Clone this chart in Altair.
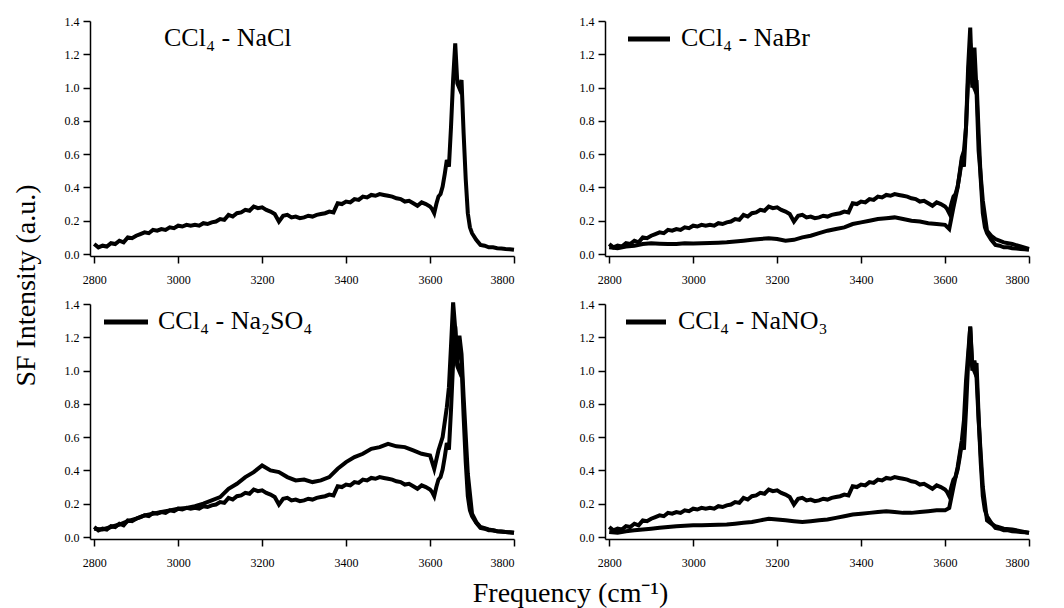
import altair as alt
import pandas as pd

# ---------------- data ----------------
FREQ_NEAT = [2800, 2810, 2820, 2830, 2840, 2850, 2860, 2870, 2880, 2890,
             2900, 2910, 2920, 2930, 2940, 2950, 2960, 2970, 2980, 2990,
             3000, 3010, 3020, 3030, 3040, 3050, 3060, 3070, 3080, 3090,
             3100, 3110, 3120, 3130, 3140, 3150, 3160, 3170, 3180, 3190,
             3200, 3210, 3220, 3230, 3240, 3250, 3260, 3270, 3280, 3290,
             3300, 3310, 3320, 3330, 3340, 3350, 3360, 3370, 3380, 3390,
             3400, 3410, 3420, 3430, 3440, 3450, 3460, 3470, 3480, 3490,
             3500, 3510, 3520, 3530, 3540, 3550, 3560, 3570, 3580, 3590,
             3600, 3605, 3610, 3615, 3620, 3625, 3630, 3635, 3640, 3645,
             3650, 3655, 3660, 3665, 3670, 3675, 3680, 3685, 3690, 3695,
             3700, 3710, 3720, 3730, 3740, 3750, 3760, 3770, 3780, 3790, 3800]
NEAT = [0.060, 0.040, 0.050, 0.045, 0.065, 0.060, 0.080, 0.070, 0.100, 0.095,
        0.110, 0.120, 0.130, 0.125, 0.145, 0.140, 0.150, 0.145, 0.160, 0.155,
        0.170, 0.165, 0.175, 0.170, 0.175, 0.170, 0.185, 0.180, 0.190, 0.195,
        0.210, 0.205, 0.235, 0.225, 0.245, 0.250, 0.265, 0.260, 0.285, 0.275,
        0.280, 0.265, 0.255, 0.240, 0.195, 0.230, 0.235, 0.220, 0.225, 0.215,
        0.220, 0.230, 0.225, 0.235, 0.240, 0.245, 0.255, 0.250, 0.305, 0.300,
        0.315, 0.310, 0.330, 0.325, 0.345, 0.340, 0.355, 0.350, 0.360, 0.355,
        0.350, 0.345, 0.335, 0.330, 0.315, 0.320, 0.305, 0.290, 0.310, 0.300,
        0.285, 0.270, 0.245, 0.300, 0.345, 0.360, 0.405, 0.480, 0.565, 0.525,
        0.765, 1.050, 1.265, 1.025, 0.995, 1.045, 0.725, 0.450, 0.245, 0.160,
        0.125, 0.085, 0.055, 0.050, 0.040, 0.040, 0.035, 0.033, 0.030, 0.028, 0.025]

FREQ_SALT = [2800, 2820, 2840, 2860, 2880, 2900, 2920, 2940, 2960, 2980,
             3000, 3020, 3040, 3060, 3080, 3100, 3120, 3140, 3160, 3180,
             3200, 3220, 3240, 3260, 3280, 3300, 3320, 3340, 3360, 3380,
             3400, 3420, 3440, 3460, 3480, 3500, 3520, 3540, 3560, 3580,
             3600, 3610, 3620, 3630, 3640, 3645, 3650, 3655, 3660, 3665,
             3670, 3675, 3680, 3690, 3700, 3710, 3720, 3740, 3760, 3780, 3800]
NABR = [0.040, 0.035, 0.045, 0.050, 0.060, 0.065, 0.062, 0.060, 0.060, 0.065,
        0.063, 0.065, 0.066, 0.068, 0.070, 0.075, 0.080, 0.085, 0.090, 0.095,
        0.090, 0.080, 0.085, 0.100, 0.110, 0.125, 0.140, 0.150, 0.160, 0.180,
        0.190, 0.200, 0.210, 0.215, 0.220, 0.210, 0.200, 0.195, 0.185, 0.180,
        0.175, 0.150, 0.280, 0.400, 0.580, 0.620, 0.760, 1.120, 1.360, 1.000,
        1.240, 0.980, 0.620, 0.320, 0.140, 0.110, 0.090, 0.070, 0.060, 0.045, 0.030]
NA2SO4 = [0.050, 0.045, 0.060, 0.075, 0.095, 0.110, 0.130, 0.140, 0.150, 0.160,
          0.170, 0.175, 0.185, 0.200, 0.220, 0.240, 0.290, 0.320, 0.360, 0.390,
          0.430, 0.400, 0.390, 0.360, 0.340, 0.345, 0.330, 0.340, 0.360, 0.410,
          0.450, 0.480, 0.500, 0.530, 0.540, 0.560, 0.545, 0.540, 0.520, 0.500,
          0.490, 0.410, 0.520, 0.600, 0.780, 0.900, 1.150, 1.410, 1.250, 1.030,
          1.210, 1.100, 0.840, 0.380, 0.140, 0.090, 0.060, 0.045, 0.035, 0.030, 0.025]
NANO3 = [0.030, 0.025, 0.035, 0.040, 0.045, 0.050, 0.055, 0.060, 0.065, 0.068,
         0.070, 0.070, 0.072, 0.074, 0.075, 0.080, 0.085, 0.090, 0.100, 0.110,
         0.105, 0.100, 0.095, 0.090, 0.095, 0.100, 0.105, 0.115, 0.125, 0.135,
         0.140, 0.145, 0.150, 0.155, 0.150, 0.145, 0.145, 0.150, 0.155, 0.160,
         0.160, 0.175, 0.300, 0.420, 0.580, 0.700, 0.940, 1.100, 1.260, 1.000,
         1.060, 0.960, 0.700, 0.300, 0.100, 0.080, 0.065, 0.050, 0.045, 0.035, 0.025]

X_TICKS = [2800, 3000, 3200, 3400, 3600, 3800]
Y_TICKS = [0.0, 0.2, 0.4, 0.6, 0.8, 1.0, 1.2, 1.4]
LABELS = ["CCl₄ - NaCl", "CCl₄ - NaBr", "CCl₄ - Na₂SO₄", "CCl₄ - NaNO₃"]

FONT = "Liberation Serif"
W, H = 424, 235


def curve(freqs, vals, name):
    return pd.DataFrame({"f": freqs, "v": vals, "s": name})


def panel(df, label, text_x, sample=None):
    lines = alt.Chart(df).mark_line(color="black", strokeWidth=4).encode(
        x=alt.X("f:Q",
                scale=alt.Scale(domain=[2790, 3800], nice=False, zero=False),
                axis=alt.Axis(values=X_TICKS, format="d", title=None,
                              tickSize=7, labelPadding=11)),
        y=alt.Y("v:Q",
                scale=alt.Scale(domain=[-0.012, 1.4], nice=False),
                axis=alt.Axis(values=Y_TICKS, format=".1f", title=None,
                              tickSize=7, labelPadding=4)),
        detail="s:N",
    )
    txt = alt.Chart(pd.DataFrame({"t": [label]})).mark_text(
        align="left", baseline="alphabetic", font=FONT, fontSize=26,
        color="black").encode(x=alt.value(text_x), y=alt.value(25), text="t:N")
    layers = [lines, txt]
    if sample is not None:
        rule = alt.Chart(pd.DataFrame({"a": [0]})).mark_rule(
            color="black", strokeWidth=5).encode(
            x=alt.value(sample[0]), x2=alt.value(sample[1]), y=alt.value(18))
        layers.append(rule)
    return alt.layer(*layers).properties(width=W, height=H)


p1 = panel(curve(FREQ_NEAT, NEAT, "neat"), LABELS[0], 74)
p2 = panel(pd.concat([curve(FREQ_NEAT, NEAT, "neat"),
                      curve(FREQ_SALT, NABR, "salt")]), LABELS[1], 76, (23, 65))
p3 = panel(pd.concat([curve(FREQ_NEAT, NEAT, "neat"),
                      curve(FREQ_SALT, NA2SO4, "salt")]), LABELS[2], 68, (14, 58))
p4 = panel(pd.concat([curve(FREQ_NEAT, NEAT, "neat"),
                      curve(FREQ_SALT, NANO3, "salt")]), LABELS[3], 73, (21, 61))

top = alt.hconcat(p1, p2, spacing=57)
bottom = alt.hconcat(p3, p4, spacing=57).properties(
    title=alt.TitleParams("Frequency (cm⁻¹)", orient="bottom", anchor="middle",
                          font=FONT, fontSize=28, fontWeight="normal",
                          color="black", offset=12, dx=20))

chart = alt.vconcat(top, bottom, spacing=9).properties(
    title=alt.TitleParams("SF Intensity (a.u.)", orient="left", anchor="middle",
                          font=FONT, fontSize=28, fontWeight="normal",
                          color="black", offset=23, dx=26),
    padding={"left": 4, "top": 7, "right": 5, "bottom": 0},
).configure_axis(
    grid=False, domainColor="black", domainWidth=1.5, tickColor="black",
    tickWidth=1.5, labelFont=FONT, labelFontSize=12, labelColor="black",
).configure_view(stroke=None)

chart.save("out.html", embed_options={"renderer": "svg", "actions": False})
